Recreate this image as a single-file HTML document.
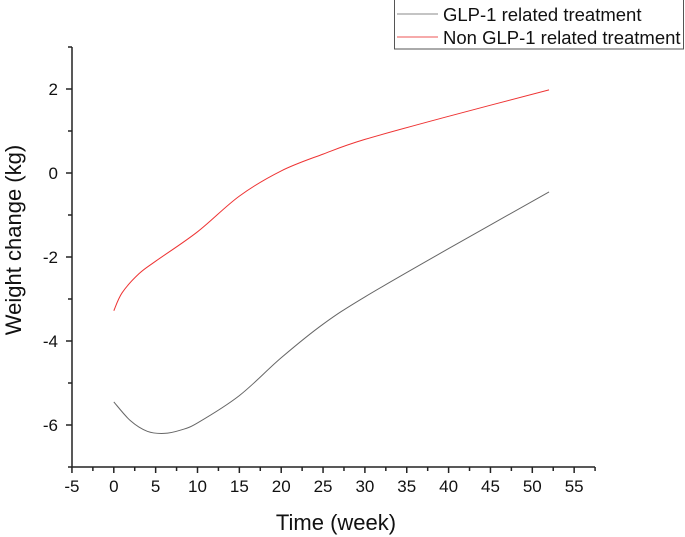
<!DOCTYPE html>
<html><head><meta charset="utf-8"><style>body{margin:0;background:#fff}svg{display:block}text{font-family:"Liberation Sans",Arial,sans-serif;fill:#111}</style></head>
<body>
<svg width="685" height="537" viewBox="0 0 685 537" xmlns="http://www.w3.org/2000/svg">
<rect x="394.5" y="-1" width="289" height="50" fill="#fff" stroke="#555" stroke-width="1"/>
<line x1="397" y1="14" x2="438" y2="14" stroke="#888" stroke-width="1"/>
<text x="443" y="21" font-size="18.5">GLP-1 related treatment</text>
<line x1="397" y1="37" x2="438" y2="37" stroke="#e55" stroke-width="1"/>
<text x="443" y="44" font-size="18.5">Non GLP-1 related treatment</text>
<g stroke="#222" stroke-width="1.5" fill="none">
<line x1="72" y1="47" x2="72" y2="467"/>
<line x1="72" y1="467" x2="595" y2="467"/>
</g>
<g id="ticks" stroke="#222" stroke-width="1.5"></g>
<g id="lbl" font-size="17"></g>
<text x="336" y="530" font-size="22" text-anchor="middle">Time (week)</text>
<text transform="translate(21,240) rotate(-90)" font-size="22" text-anchor="middle">Weight change (kg)</text>
<path id="g" fill="none" stroke="#666" stroke-width="1"/>
<path id="r" fill="none" stroke="#e33" stroke-width="1"/>
</svg>
<script>
const X=v=>113.8+v*8.37,Y=v=>173-v*42;
const t=document.getElementById('ticks'),l=document.getElementById('lbl'),ns='http://www.w3.org/2000/svg';
function ln(a,b,c,d){const e=document.createElementNS(ns,'line');e.setAttribute('x1',a);e.setAttribute('y1',b);e.setAttribute('x2',c);e.setAttribute('y2',d);t.appendChild(e);}
function tx(x,y,s,a){const e=document.createElementNS(ns,'text');e.setAttribute('x',x);e.setAttribute('y',y);e.setAttribute('text-anchor',a);e.textContent=s;l.appendChild(e);}
for(let v=-5;v<=57.5;v+=2.5){const x=X(v),maj=v%5===0;ln(x,467,x,467+(maj?6:4));if(maj)tx(x,492,v,'middle');}
for(let v=-7;v<=3;v+=1){const y=Y(v),maj=v%2===0;ln(72,y,72-(maj?6:4),y);if(maj)tx(58,y+6,v,'end');}
function sp(pts){let p=pts.map(a=>[X(a[0]),Y(a[1])]);let d='M'+p[0];for(let i=0;i<p.length-1;i++){const p0=p[i-1]||p[i],p1=p[i],p2=p[i+1],p3=p[i+2]||p2;d+=` C${p1[0]+(p2[0]-p0[0])/6},${p1[1]+(p2[1]-p0[1])/6} ${p2[0]-(p3[0]-p1[0])/6},${p2[1]-(p3[1]-p1[1])/6} ${p2}`;}return d;}
document.getElementById('g').setAttribute('d',sp([[0,-5.45],[2,-5.9],[4,-6.15],[6,-6.2],[8,-6.12],[10,-5.95],[15,-5.3],[20,-4.4],[25,-3.6],[30,-2.95],[40,-1.8],[52,-0.45]]));
document.getElementById('r').setAttribute('d',sp([[0,-3.28],[1,-2.85],[3,-2.4],[5,-2.1],[10,-1.4],[15,-0.55],[20,0.05],[25,0.45],[30,0.8],[40,1.35],[52,1.98]]));
</script>
</body></html>
